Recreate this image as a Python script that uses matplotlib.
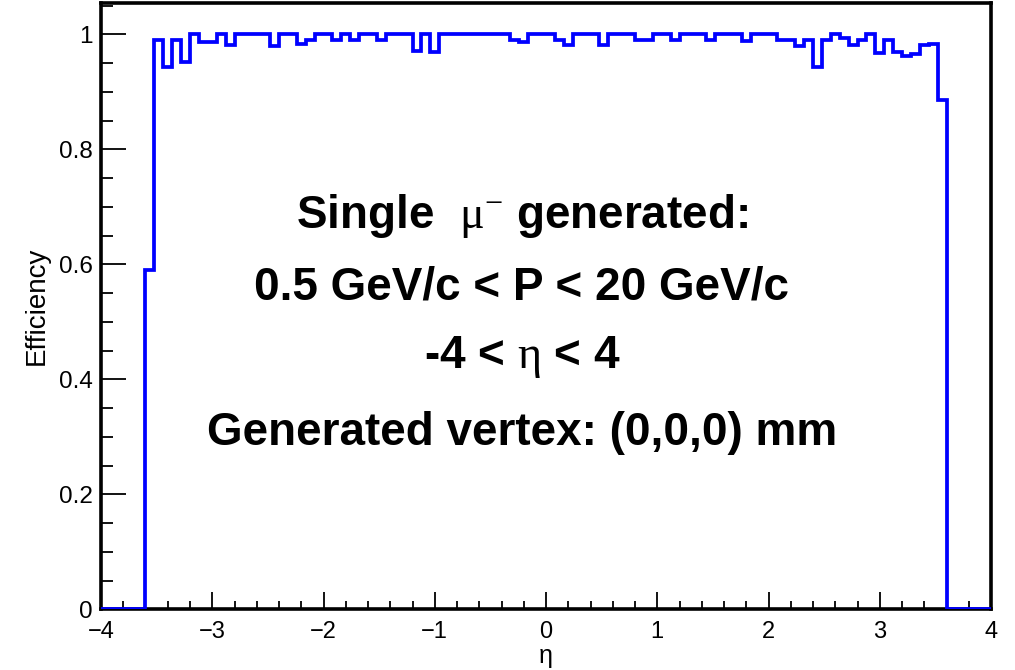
import numpy as np
import matplotlib
matplotlib.use('Agg')
import matplotlib.pyplot as plt
from matplotlib.ticker import MultipleLocator

plt.rcParams['font.family'] = ['Liberation Sans', 'DejaVu Sans']
plt.rcParams['mathtext.fontset'] = 'custom'
plt.rcParams['mathtext.rm'] = 'Liberation Serif'
plt.rcParams['mathtext.it'] = 'Liberation Serif:italic'

### histogram data: 100 bins of eta in [-4, 4]
eta_min, eta_max, n_bins = -4.0, 4.0, 100

# efficiency per bin
eff = [
    0, 0, 0, 0, 0,
    0.59, 0.99, 0.944, 0.99, 0.951, 1.0, 0.987, 0.987, 1.0, 0.981,
    1.0, 1.0, 1.0, 1.0, 0.979, 1.0, 1.0, 0.983, 0.99, 1.0,
    1.0, 0.99, 1.0, 0.99, 1.0, 1.0, 0.99, 1.0, 1.0, 1.0,
    0.971, 1.0, 0.970, 1.0, 1.0, 1.0, 1.0, 1.0, 1.0, 1.0,
    1.0, 0.99, 0.987, 1.0, 1.0, 1.0, 0.99, 0.981, 1.0, 1.0,
    1.0, 0.981, 1.0, 1.0, 1.0, 0.99, 0.99, 1.0, 1.0, 0.99,
    1.0, 1.0, 1.0, 0.99, 1.0, 1.0, 1.0, 0.988, 1.0, 1.0,
    1.0, 0.99, 0.99, 0.980, 0.99, 0.944, 0.99, 1.0, 0.994, 0.981,
    0.99, 1.0, 0.968, 0.99, 0.969, 0.962, 0.965, 0.981, 0.983, 0.885,
    0, 0, 0, 0, 0,
]

x_ticks = [-4, -3, -2, -1, 0, 1, 2, 3, 4]
y_ticks = [0, 0.2, 0.4, 0.6, 0.8, 1.0]
y_ticklabels = ['0', '0.2', '0.4', '0.6', '0.8', '1']

info_lines = [
    r'Single  $\mathrm{\mu}^{-}$ generated:',
    '0.5 GeV/c < P < 20 GeV/c',
    r'-4 < $\mathrm{\eta}$ < 4',
    'Generated vertex: (0,0,0) mm',
]
info_y = [0.629, 0.510, 0.398, 0.271]

edges = np.linspace(eta_min, eta_max, n_bins + 1)

### plot
fig = plt.figure(figsize=(10.15, 6.7), dpi=100)
ax = fig.add_axes([0.0995, 0.0906, 0.8769, 0.9054])

ax.stairs(eff, edges, color='#0000ff', linewidth=2.7, zorder=3)

ax.set_xlim(eta_min, eta_max)
ax.set_ylim(0, 1.055)

ax.set_xticks(x_ticks)
ax.xaxis.set_minor_locator(MultipleLocator(0.2))
ax.set_yticks(y_ticks)
ax.set_yticklabels(y_ticklabels)
ax.yaxis.set_minor_locator(MultipleLocator(0.05))

ax.tick_params(which='both', direction='in', width=1.3)
ax.tick_params(axis='y', which='major', length=18, pad=6, labelsize=17.5)
ax.tick_params(axis='y', which='minor', length=8.5)
ax.tick_params(axis='x', which='major', length=12, pad=8.5, labelsize=17)
ax.tick_params(axis='x', which='minor', length=5.5)

for s in ax.spines.values():
    s.set_linewidth(2.6)

ax.set_ylabel('Efficiency', fontsize=20, va='center')
ax.yaxis.set_label_coords(-0.072, 0.5)
ax.set_xlabel('η', fontsize=18, va='top')
ax.xaxis.set_label_coords(0.5, -0.057)

for txt, yy in zip(info_lines, info_y):
    ax.text(0.473, yy, txt, transform=ax.transAxes, ha='center', va='baseline',
            fontsize=33, fontweight='bold')

plt.savefig('out.png', dpi=100)
